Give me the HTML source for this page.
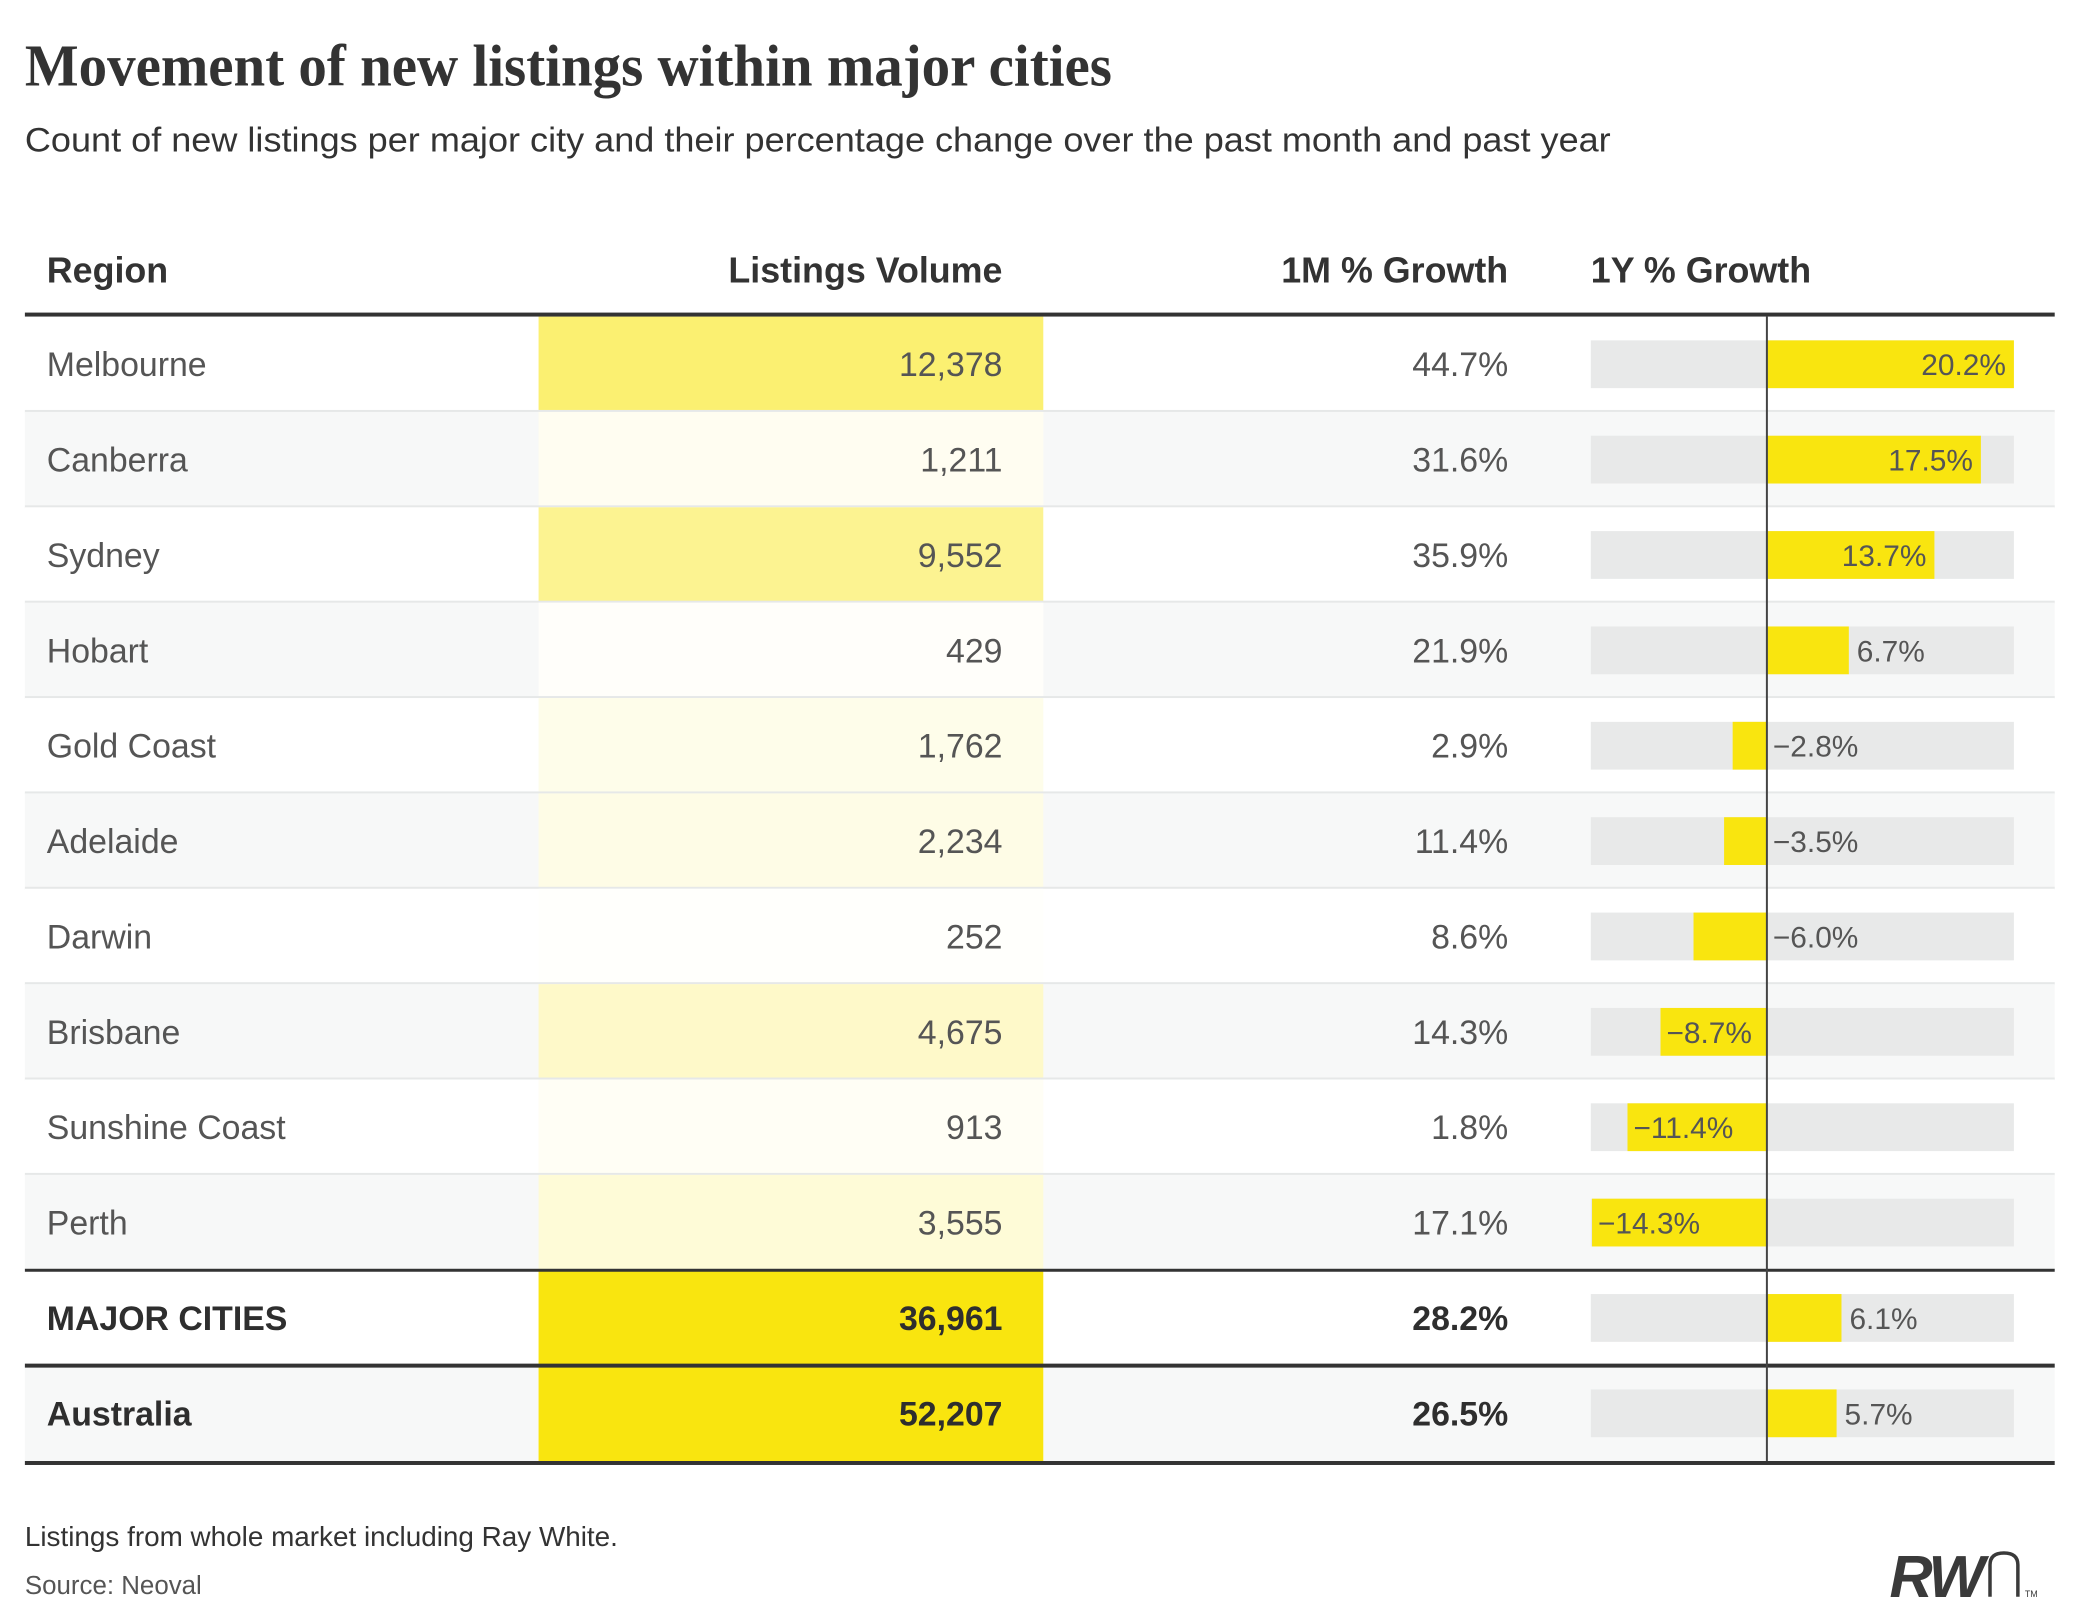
<!DOCTYPE html>
<html><head><meta charset="utf-8"><style>
html,body{margin:0;padding:0;background:#fff}
svg{display:block}
</style></head><body>
<svg id="chart" width="2079" height="1623" viewBox="0 0 2079 1623" xmlns="http://www.w3.org/2000/svg" style="font-family:'Liberation Sans',sans-serif">
<g transform="scale(0.9955)">
<text x="25" y="86" style="font-family:'Liberation Serif',serif;font-weight:bold" font-size="60" fill="#333" textLength="1092" lengthAdjust="spacingAndGlyphs">Movement of new listings within major cities</text>
<text x="25" y="152" font-size="34" fill="#333" textLength="1593" lengthAdjust="spacingAndGlyphs">Count of new listings per major city and their percentage change over the past month and past year</text>
<g font-weight="bold" font-size="36" fill="#333">
<text x="47" y="284">Region</text>
<text x="1007" y="284" text-anchor="end">Listings Volume</text>
<text x="1515" y="284" text-anchor="end">1M % Growth</text>
<text x="1598" y="284">1Y % Growth</text>
</g>
<g id="rows"></g>
<text x="25" y="1553" font-size="28" fill="#333">Listings from whole market including Ray White.</text>
<text x="25" y="1601" font-size="26" fill="#555">Source: Neoval</text>
<g>
<text x="1898" y="1604" font-size="60" font-weight="bold" font-style="italic" fill="#3a3a3a" letter-spacing="-3">RW</text>
<path d="M1999 1604 V1572 Q1999 1560 2013 1560 Q2027 1560 2027 1572 V1604" fill="none" stroke="#3a3a3a" stroke-width="3.5"/>
<text x="2034" y="1604" font-size="9" fill="#3a3a3a">TM</text>
</g>
</g>
</svg>
<script>
const regions=["Melbourne","Canberra","Sydney","Hobart","Gold Coast","Adelaide","Darwin","Brisbane","Sunshine Coast","Perth","MAJOR CITIES","Australia"];
const volumes=[12378,1211,9552,429,1762,2234,252,4675,913,3555,36961,52207];
const growth1m=[44.7,31.6,35.9,21.9,2.9,11.4,8.6,14.3,1.8,17.1,28.2,26.5];
const growth1y=[20.2,17.5,13.7,6.7,-2.8,-3.5,-6.0,-8.7,-11.4,-14.3,6.1,5.7];
const NS="http://www.w3.org/2000/svg";
const g=document.getElementById('rows');
const top0=318,rowH=95.8,L=25,R=2064;
const xMin=-14.4,xMax=20.2,bx0=1598,bx1=2023;
function xs(v){return bx0+(v-xMin)/(xMax-xMin)*(bx1-bx0);}
function mk(tag,attrs){const e=document.createElementNS(NS,tag);for(const k in attrs)e.setAttribute(k,attrs[k]);g.appendChild(e);return e;}
function fmt(v){return v.toLocaleString('en-US');}
function pct(v){return (v<0?'\u2212':'')+Math.abs(v).toFixed(1)+'%';}
function rowY(i){return top0+i*rowH;}
for(let i=0;i<regions.length;i++){
  const y=rowY(i), cy=y+rowH/2, bold=i>=10;
  let e=mk('rect',{x:L,y:y,width:R-L,height:rowH,fill:i%2?'#f7f8f8':'#ffffff'});
  
  
  e=mk('rect',{x:541,y:y,width:507,height:rowH,fill:'#ffffff'});
  
  
  const op=Math.min(1,volumes[i]/52207*2.5);
  e=mk('rect',{x:541,y:y,width:507,height:rowH,fill:'#f9e50f','fill-opacity':op});
  
  
  if(i<9){e=mk('rect',{x:L,y:y+rowH-2,width:R-L,height:3,fill:'#e6e8e8'});
    
    }
  const tAttr={'font-size':34,fill:bold?'#2e2e2e':'#555','font-weight':bold?'bold':'normal'};
  e=mk('text',Object.assign({x:47,y:cy+12},tAttr));e.textContent=regions[i];
  
  
  e=mk('text',Object.assign({x:1007,y:cy+12,'text-anchor':'end'},tAttr));e.textContent=fmt(volumes[i]);
  
  
  e=mk('text',Object.assign({x:1515,y:cy+12,'text-anchor':'end'},tAttr));e.textContent=growth1m[i].toFixed(1)+'%';
  
  
  e=mk('rect',{x:bx0,y:cy-24,width:bx1-bx0,height:48,fill:'#e8e9e9'});
  
  
  const v=growth1y[i],x0=xs(0),xv=xs(v);
  e=mk('rect',{x:Math.min(x0,xv),y:cy-24,width:Math.abs(xv-x0),height:48,fill:'#f9e50f'});
  
  
  let lx,anchor;
  if(v>=10){lx=xv-8;anchor='end';}
  else if(v>=0){lx=xv+8;anchor='start';}
  else if(v>-8){lx=x0+6;anchor='start';}
  else{lx=xv+6;anchor='start';}
  e=mk('text',{x:lx,y:cy+11,'font-size':30,fill:'#555','text-anchor':anchor});e.textContent=pct(v);
  
  
}
let e=mk('rect',{x:L,y:314,width:R-L,height:4,fill:'#333'});


e=mk('rect',{x:L,y:rowY(10)-1.5,width:R-L,height:3,fill:'#333'});


e=mk('rect',{x:L,y:rowY(11)-2,width:R-L,height:4,fill:'#333'});


e=mk('rect',{x:L,y:rowY(11)+rowH,width:R-L,height:4,fill:'#333'});


e=mk('rect',{x:xs(0)-1,y:318,width:2,height:rowY(11)+rowH-318,fill:'#444'});


</script>
</body></html>
